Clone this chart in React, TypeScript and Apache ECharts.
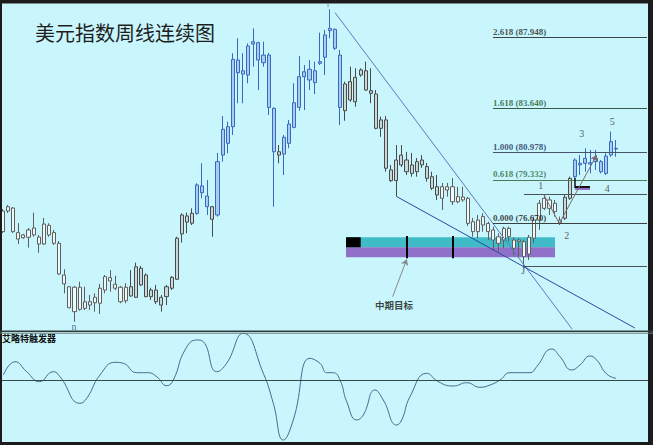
import React, { useEffect, useRef } from "react";
import * as echarts from "echarts";

// ---------- data ----------
// weekly candles: open, close, low, high (USD index)
const opens = [
  76.19, 77.44, 77.62, 76.13, 75.82, 75.85, 76.41, 75.86, 75.44, 76.57,
  76.13, 75.48, 73.56, 72.85, 71.34, 72.82, 71.54, 71.94, 72.21, 71.85,
  72.65, 73.40, 73.00, 72.82, 72.00, 72.85, 72.21, 73.97, 73.56, 72.25,
  72.65, 71.74, 72.25, 72.76, 73.30, 76.05, 77.14, 76.70, 77.30, 78.55,
  78.35, 77.70, 77.20, 80.83, 81.54, 82.55, 86.59, 85.74, 85.68, 87.56,
  87.64, 86.43, 86.89, 83.66, 81.03, 80.89, 81.54, 82.51, 83.72, 85.58,
  86.03, 85.22, 86.39, 86.76, 88.37, 88.45, 86.89, 83.52, 85.28, 84.06,
  85.68, 85.94, 84.73, 84.53, 82.45, 82.96, 79.93, 79.28, 80.83, 79.82,
  80.23, 79.82, 80.53, 80.13, 79.52, 78.91, 78.21, 78.91, 78.91, 78.00,
  78.29, 78.21, 76.19, 76.89, 76.59, 76.69, 76.29, 75.88, 75.68, 76.39,
  75.68, 75.58, 75.58, 74.83, 75.79, 76.89, 78.21, 77.60, 77.91, 76.73,
  77.00, 78.21, 79.52, 80.23, 80.33, 80.37, 80.43, 80.43, 79.72, 80.83, 81.24,
];
const closes = [
  77.44, 77.70, 76.19, 75.74, 75.99, 76.29, 75.99, 75.44, 76.65, 75.99,
  75.48, 73.62, 73.02, 71.58, 72.82, 71.48, 71.94, 71.74, 71.88, 72.76,
  73.46, 73.20, 72.76, 71.94, 72.82, 72.29, 74.06, 72.96, 72.25, 72.65,
  71.94, 72.21, 72.85, 73.42, 75.79, 77.20, 76.77, 77.30, 79.02, 78.96,
  77.70, 76.94, 80.43, 82.39, 82.55, 86.63, 85.82, 85.94, 87.44, 87.70,
  86.59, 86.89, 83.72, 81.03, 80.83, 81.91, 82.71, 84.00, 85.58, 85.88,
  85.38, 85.94, 86.49, 88.11, 88.51, 87.30, 83.72, 85.14, 84.17, 85.54,
  85.99, 84.77, 84.57, 82.45, 82.96, 80.03, 79.28, 80.53, 80.23, 80.53,
  79.72, 80.43, 80.23, 79.42, 78.82, 78.41, 78.91, 78.71, 78.00, 78.31,
  78.11, 76.69, 76.79, 76.19, 77.10, 76.19, 75.68, 75.48, 76.39, 75.88,
  75.18, 75.68, 74.67, 75.85, 76.89, 77.91, 77.60, 78.11, 77.40, 76.89,
  78.27, 79.42, 80.53, 80.33, 80.63, 80.29, 80.63, 79.82, 80.77, 81.64, 81.20,
];
const lows = [
  76.11, 77.32, 76.11, 75.44, 75.76, 75.22, 75.88, 74.91, 75.38, 75.88,
  75.38, 73.56, 72.45, 71.54, 70.73, 71.40, 71.44, 71.44, 71.34, 71.20,
  72.45, 72.55, 72.65, 71.85, 71.85, 72.25, 72.17, 72.89, 72.21, 72.05,
  71.80, 71.34, 71.74, 72.65, 73.26, 75.52, 76.09, 76.59, 77.20, 78.21,
  77.20, 75.88, 77.10, 80.43, 80.94, 82.05, 83.97, 83.97, 85.18, 86.19,
  84.77, 86.19, 83.26, 77.70, 80.33, 79.62, 81.24, 82.45, 83.52, 83.56,
  84.77, 84.53, 86.29, 85.68, 87.91, 87.20, 82.65, 82.91, 84.06, 83.76,
  85.58, 84.73, 83.97, 82.39, 81.94, 79.82, 79.20, 78.31, 80.11, 79.62,
  79.52, 79.52, 80.05, 79.22, 78.71, 78.11, 77.50, 78.31, 77.80, 77.91,
  78.00, 76.53, 75.88, 75.79, 76.19, 75.68, 75.08, 74.97, 75.18, 75.58,
  74.77, 74.67, 74.11, 74.47, 75.48, 76.29, 77.50, 77.20, 77.10, 76.59,
  76.89, 78.11, 79.42, 79.62, 79.82, 79.72, 79.93, 79.72, 79.62, 80.73, 80.73,
];
const highs = [
  77.56, 77.80, 77.68, 76.71, 76.05, 76.41, 77.34, 75.99, 77.02, 76.70,
  76.29, 75.62, 73.91, 72.89, 72.89, 73.16, 72.85, 72.35, 72.45, 73.02,
  73.56, 73.86, 73.52, 72.90, 73.06, 73.86, 74.31, 74.11, 73.66, 72.79,
  72.96, 72.35, 72.96, 73.50, 75.88, 77.30, 77.34, 77.60, 79.12, 80.33,
  79.32, 77.75, 80.96, 83.20, 82.85, 87.00, 87.91, 87.00, 87.60, 88.51,
  87.70, 87.70, 87.02, 83.72, 81.44, 82.05, 82.96, 85.18, 86.83, 86.29,
  86.59, 86.49, 88.25, 88.41, 89.66, 88.51, 87.20, 85.28, 86.19, 86.09,
  86.09, 86.49, 86.09, 84.77, 83.16, 83.20, 80.23, 81.44, 81.44, 81.02,
  80.96, 80.65, 80.83, 80.35, 79.82, 79.62, 79.14, 79.14, 79.44, 78.91,
  78.91, 78.29, 77.02, 77.20, 77.30, 76.79, 76.49, 76.09, 76.49, 76.49,
  75.85, 75.79, 75.68, 75.99, 77.10, 78.11, 78.47, 78.31, 78.11, 77.10,
  78.41, 79.52, 80.63, 80.83, 81.24, 81.14, 81.14, 80.53, 80.94, 82.25, 81.74,
];
const slotCount = 127; // candle slots incl. empty space at the right
const categories = Array.from({ length: slotCount }, (_, i) => `W${i + 1}`);

// Fibonacci projection
const fibRatios = ["2.618", "1.618", "1.000", "0.618", "0.000"];
const fibValues = [87.948, 83.64, 80.978, 79.332, 76.67];
const fibRange = [95.93, 126.08];

// wave level lines (wave 1 high, wave J low)
const levelValues = [78.45, 74.12];
const levelStart = 102;

// trend lines [x index, price]
const trendA = [[65.0, 89.46], [111.4, 70.29]];
const trendB = [[77.1, 78.31], [123.7, 70.35]];

// mid-term target zone
const zoneX = [67.15, 108.07];
const zoneCyan = [75.85, 75.24];
const zonePurple = [75.24, 74.64];
const zoneBlackX = [67.15, 70.03];
const zoneTicksX = [79.03, 88.04];
const zoneTicksY = [75.93, 74.57];
const targetArrow = [[76.29, 72.25], [79.03, 74.51]];
const targetLabel = { text: "中期目标", x: 76.55, y: 71.74 };

// wave-4 marker and wave path
const w4Vertical = [[111.98, 79.44], [111.98, 78.83]];
const w4Black = [[111.98, 78.9], [114.92, 78.9]];
const w4Purple = [[111.98, 78.76], [114.92, 78.76]];
const wavePath = [[105.91, 78.41], [108.91, 76.69], [116.23, 80.83]];

// wave labels
const waveText = ["1", "2", "3", "4", "5", "J", "n", "i"];
const waveX = [105.27, 110.36, 113.29, 118.3, 119.28, 101.86, 13.9, 63.63];
const waveY = [78.96, 75.93, 82.15, 78.82, 82.85, 73.86, 70.47, 89.93];

// Elliott trigger oscillator (x index, value)
const oscX = [
  0.06, 2.35, 4.64, 7.11, 9.85, 11.16, 15.07, 16.39, 18.99, 21.93, 23.55,
  26.17, 28.45, 30.09, 32.05, 33.34, 35.63, 37.92, 39.21, 41.84, 43.79,
  47.04, 50.96, 52.92, 54.88, 56.83, 60.1, 62.06, 63.37, 64.67, 65.98,
  67.29, 69.25, 70.54, 72.83, 74.45, 77.08, 78.06, 79.68, 82.95, 85.22,
  88.16, 90.78, 93.38, 95.34, 97.3, 99.26, 103.17, 104.48, 107.42, 109.05,
  111.33, 112.96, 114.92, 116.23, 118.19, 120.01,
];
const oscV = [
  0.5, 1.83, 0.83, -0.17, 0.83, 0.33, -2.33, -1.83, 0.5, 1.77, 1.67,
  0.73, 0.73, 0.33, -0.57, 0, 3.0, 4.0, 3.83, 0.83, 1.67,
  4.67, 0.67, -2.33, -6.0, -4.0, 2.17, 1.67, 0.73, 0.73, 0,
  -2.17, -4.0, -3.5, -1.0, -2.0, -4.5, -4.0, -1.67, 0.67, -0.17,
  -0.6, -0.27, -0.73, -0.5, 0, 0.73, 0.73, 1.33, 3.1, 2.33,
  1.0, 1.5, 2.4, 2.0, 0.6, 0.17,
];

// ---------- styling ----------
const BG = "#c8f6fc";
const themes: Record<string, any> = {
  maroon: { upFill: "#eef9fa", upBorder: "#5e5e5e", downFill: "#6a2626", downBorder: "#6a2a2a" },
  black: { upFill: "#c9d8d8", upBorder: "#4a4a4a", downFill: "#111111", downBorder: "#1c1c1c" },
  blue: { upFill: "#a9cdf0", upBorder: "#3868c0", downFill: "#163a98", downBorder: "#1a3c98" },
};
const themeRanges: [number, number, string][] = [
  [0, 24, "maroon"], [25, 37, "black"], [38, 40, "blue"], [41, 41, "black"],
  [42, 53, "blue"], [54, 54, "black"], [55, 66, "blue"], [67, 85, "black"],
  [86, 109, "maroon"], [110, 111, "black"], [112, 200, "blue"],
];
function themeFor(i: number) {
  for (const [a, b, t] of themeRanges) if (i >= a && i <= b) return themes[t];
  return themes.black;
}
const fibLineColors = ["#3a4646", "#3a5a48", "#46566a", "#4a7a58", "#3a4040"];
const fibTextColors = ["#262626", "#1e5a2e", "#1a2a5a", "#2e6a3e", "#141414"];

const seg = (p: number[][], style: any, endSymbol?: string) => [
  { coord: p[0], lineStyle: style },
  endSymbol ? { coord: p[1], symbol: endSymbol, symbolSize: 6 } : { coord: p[1] },
];

export default function App() {
  const ref = useRef<HTMLDivElement>(null);
  useEffect(() => {
    document.body.style.margin = "0";
    const chart = echarts.init(ref.current!, null, { renderer: "svg" });
    const candleData = opens.map((o, i) => {
      const t = themeFor(i);
      return {
        value: [o, closes[i], lows[i], highs[i]],
        itemStyle: { color: t.upFill, color0: t.downFill, borderColor: t.upBorder, borderColor0: t.downBorder },
      };
    });

    const markLines: any[] = [];
    fibValues.forEach((v, i) =>
      markLines.push(seg([[fibRange[0], v], [fibRange[1], v]], { color: fibLineColors[i], width: 1.2, type: "solid" }))
    );
    levelValues.forEach((v) =>
      markLines.push(seg([[levelStart, v], [fibRange[1], v]], { color: "#4a5252", width: 1, type: "solid" }))
    );
    markLines.push(seg(trendB, { color: "#2a4aa0", width: 1, type: "solid" }));
    zoneTicksX.forEach((x) =>
      markLines.push(seg([[x, zoneTicksY[0]], [x, zoneTicksY[1]]], { color: "#000", width: 2, type: "solid" }))
    );
    markLines.push(seg(targetArrow, { color: "#8a8a8a", width: 1, type: "solid" }, "arrow"));
    markLines.push(seg(w4Vertical, { color: "#111", width: 1.5, type: "solid" }));
    markLines.push(seg(w4Black, { color: "#111", width: 2, type: "solid" }));
    markLines.push(seg(w4Purple, { color: "#9070c8", width: 2, type: "solid" }));
    markLines.push(seg([wavePath[0], wavePath[1]], { color: "#806a6a", width: 1, type: "solid" }));
    markLines.push(seg([wavePath[1], wavePath[2]], { color: "#806a6a", width: 1, type: "solid" }, "arrow"));

    const fibLabels = fibValues.map((v, i) => ({
      value: [fibRange[0], v],
      label: {
        show: true,
        formatter: `${fibRatios[i]} (${v.toFixed(3)})`,
        position: [0, -1],
        align: "left",
        verticalAlign: "bottom",
        fontFamily: "Liberation Serif",
        fontWeight: "bold",
        fontSize: 9,
        color: fibTextColors[i],
      },
    }));
    const waveLabels = waveText.map((t, i) => ({
      value: [waveX[i], waveY[i]],
      label: {
        show: true,
        formatter: t,
        position: "inside",
        fontFamily: "Liberation Serif",
        fontSize: t === "i" ? 7 : 10,
        color: t === "n" || t === "i" ? "#2a4a8a" : "#333",
      },
    }));
    waveLabels.push({
      value: [targetLabel.x, targetLabel.y],
      label: {
        show: true,
        formatter: targetLabel.text,
        position: "inside",
        fontFamily: "Noto Sans CJK SC",
        fontSize: 9.5,
        fontWeight: "bold",
        color: "#111",
      } as any,
    });

    const option: any = {
      animation: false,
      backgroundColor: BG,
      title: {
        text: "美元指数周线连续图",
        left: 30,
        top: 17,
        textStyle: { fontFamily: "Noto Sans CJK SC", fontSize: 20, fontWeight: "normal", color: "#1e1e1e" },
      },
      grid: [
        { left: 0.45, top: 3.76, width: 648.7, height: 326.7 },
        { left: 0.45, top: 333, width: 648.7, height: 109 },
      ],
      xAxis: [
        { type: "category", gridIndex: 0, data: categories, show: false, boundaryGap: true },
        { type: "value", gridIndex: 0, min: -0.5, max: slotCount - 0.5, show: false },
        { type: "value", gridIndex: 1, min: -0.5, max: slotCount - 0.5, show: false },
      ],
      yAxis: [
        { type: "value", gridIndex: 0, min: 70.2, max: 90, show: false },
        { type: "value", gridIndex: 1, min: -6.2, max: 4.7, show: false },
      ],
      graphic: [
        { type: "rect", shape: { x: 0, y: 0, width: 653, height: 3 }, style: { fill: "#1c1c1c" }, z: 100 },
        { type: "line", shape: { x1: 0, y1: 3.5, x2: 653, y2: 3.5 }, style: { stroke: "#7a8a8a", lineWidth: 1 }, z: 100 },
        { type: "rect", shape: { x: 0, y: 0, width: 2, height: 445 }, style: { fill: "#1c1c1c" }, z: 100 },
        { type: "rect", shape: { x: 648, y: 0, width: 5, height: 445 }, style: { fill: "#1c1c1c" }, z: 100 },
        { type: "rect", shape: { x: 0, y: 330.5, width: 653, height: 1.5 }, style: { fill: "#2f3a3a" }, z: 100 },
        { type: "line", shape: { x1: 0, y1: 333.2, x2: 653, y2: 333.2 }, style: { stroke: "#6a7a7a", lineWidth: 1 }, z: 100 },
        { type: "rect", shape: { x: 0, y: 442, width: 653, height: 3 }, style: { fill: "#1c1c1c" }, z: 100 },
        {
          type: "text",
          x: 2,
          y: 334,
          z: 100,
          style: { text: "艾略特触发器", fontFamily: "Noto Sans CJK SC", fontSize: 9, fontWeight: "bold", fill: "#111" },
        },
      ],
      series: [
        {
          type: "candlestick",
          xAxisIndex: 0,
          yAxisIndex: 0,
          data: candleData,
          barWidth: 3.6,
          itemStyle: { borderWidth: 1 },
          z: 3,
        },
        {
          type: "line",
          xAxisIndex: 1,
          yAxisIndex: 0,
          data: trendA,
          symbol: "none",
          lineStyle: { color: "#5a78c0", width: 1 },
          z: 4,
          silent: true,
          markArea: {
            silent: true,
            data: [
              [{ coord: [zoneX[0], zoneCyan[0]], itemStyle: { color: "#40bcc8" } }, { coord: [zoneX[1], zoneCyan[1]] }],
              [{ coord: [zoneX[0], zonePurple[0]], itemStyle: { color: "#9070c8" } }, { coord: [zoneX[1], zonePurple[1]] }],
              [{ coord: [zoneBlackX[0], zoneCyan[0]], itemStyle: { color: "#000" } }, { coord: [zoneBlackX[1], zoneCyan[1]] }],
            ],
          },
          markLine: {
            silent: true,
            symbol: ["none", "none"],
            label: { show: false },
            data: markLines,
          },
        },
        {
          type: "scatter",
          xAxisIndex: 1,
          yAxisIndex: 0,
          symbolSize: 0,
          silent: true,
          z: 10,
          data: [...fibLabels, ...waveLabels],
        },
        {
          type: "line",
          xAxisIndex: 2,
          yAxisIndex: 1,
          data: oscX.map((x, i) => [x, oscV[i]]),
          smooth: 0.5,
          symbol: "none",
          silent: true,
          lineStyle: { color: "#4a6a90", width: 1 },
          markLine: {
            silent: true,
            symbol: ["none", "none"],
            label: { show: false },
            lineStyle: { color: "#3a4848", width: 1.2, type: "solid" },
            data: [{ yAxis: 0 }],
          },
        },
      ],
    };
    chart.setOption(option);
    return () => chart.dispose();
  }, []);
  return <div ref={ref} style={{ position: "fixed", left: 0, top: 0, width: 653, height: 445 }} />;
}
